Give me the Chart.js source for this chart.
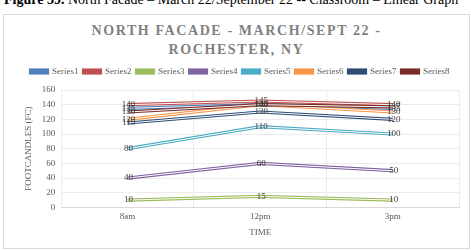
<!DOCTYPE html>
<html>
<head>
<meta charset="utf-8">
<script src="https://cdn.jsdelivr.net/npm/chart.js@4.4.0/dist/chart.umd.min.js"></script>
<style>
  body { margin: 0; width: 471px; height: 250px; overflow: hidden; background: #fff; position: relative; font-family: "Liberation Serif", serif; }
  #caption { position: absolute; left: 4px; top: -8px; font-size: 14px; color: #000; white-space: nowrap; }
  #box { position: absolute; left: 3px; top: 14px; width: 465px; height: 233px; border: 1px solid #d9d9d9; }
  #title { position: absolute; left: 0; top: 6px; width: 465px; text-align: center; font-weight: bold; font-size: 14px; letter-spacing: 1.6px; color: #7f7f7f; line-height: 19px; }
  #wrap { position: absolute; left: 4px; top: 62px; width: 464px; height: 185px; }
</style>
</head>
<body>
<div id="caption"><b>Figure 39.</b> North Facade – March 22/September 22 -- Classroom – Linear Graph</div>
<div id="box"><div id="title">NORTH FACADE - MARCH/SEPT 22 -<br>ROCHESTER, NY</div></div>
<div id="wrap"><canvas id="c"></canvas></div>
<script>
const times = ['8am', '12pm', '3pm'];
const seriesNames = ['Series1', 'Series2', 'Series3', 'Series4', 'Series5', 'Series6', 'Series7', 'Series8'];
const series1 = [135, 140, 135];
const series2 = [140, 145, 140];
const series3 = [10, 15, 10];
const series4 = [40, 60, 50];
const series5 = [80, 110, 100];
const series6 = [120, 140, 130];
const series7 = [115, 130, 120];
const series8 = [130, 140, 137];
const colors = ['#4F81BD', '#C0504D', '#9BBB59', '#8064A2', '#4BACC6', '#F79646', '#2C4D75', '#772C2A'];
const allValues = [series1, series2, series3, series4, series5, series6, series7, series8];
const serif = '"Liberation Serif", "DejaVu Serif", serif';

const datasets = [];
allValues.forEach((vals, i) => {
  // outer coloured stroke
  datasets.push({
    label: seriesNames[i],
    data: vals,
    borderColor: colors[i],
    backgroundColor: colors[i],
    borderWidth: 3.2,
    pointRadius: 0,
    tension: 0,
    order: 100 - 2 * i
  });
  // white core for the double line look
  datasets.push({
    label: '_core' + i,
    data: vals,
    borderColor: '#ffffff',
    borderWidth: 1,
    pointRadius: 0,
    tension: 0,
    order: 99 - 2 * i
  });
});

const valueLabels = {
  id: 'valueLabels',
  afterDatasetsDraw(chart) {
    const ctx = chart.ctx;
    ctx.save();
    ctx.font = '9px ' + serif;
    ctx.fillStyle = '#404040';
    ctx.textAlign = 'center';
    ctx.textBaseline = 'middle';
    chart.data.datasets.forEach((ds, di) => {
      if (ds.label.startsWith('_core')) return;
      const meta = chart.getDatasetMeta(di);
      meta.data.forEach((pt, j) => {
        ctx.fillText(ds.data[j], pt.x + 1, pt.y);
      });
    });
    ctx.restore();
  }
};

// a bit of room under the legend
const legendGap = {
  id: 'legendGap',
  beforeInit(chart) {
    const fit = chart.legend.fit;
    chart.legend.fit = function () {
      fit.call(this);
      this.height += 4;
    };
  }
};

new Chart(document.getElementById('c'), {
  type: 'line',
  data: { labels: times, datasets: datasets },
  plugins: [valueLabels, legendGap],
  options: {
    responsive: true,
    maintainAspectRatio: false,
    animation: false,
    layout: { padding: { left: 17, right: 9, top: 0, bottom: 8 } },
    plugins: {
      tooltip: { enabled: false },
      legend: {
        position: 'top',
        labels: {
          filter: (item) => !item.text.startsWith('_core'),
          sort: (a, b) => a.datasetIndex - b.datasetIndex,
          boxWidth: 17,
          boxHeight: 3,
          padding: 5,
          color: '#595959',
          font: { family: serif, size: 9 }
        }
      }
    },
    scales: {
      x: {
        offset: true,
        grid: { offset: true, color: '#ececec', drawTicks: false },
        border: { color: '#d9d9d9' },
        ticks: { color: '#595959', padding: 4, font: { family: serif, size: 9 } },
        title: { display: true, text: 'TIME', color: '#595959', padding: { top: 1, bottom: 1 }, font: { family: serif, size: 9 } }
      },
      y: {
        min: 0,
        max: 160,
        ticks: { stepSize: 20, color: '#595959', padding: 6, font: { family: serif, size: 9 } },
        grid: { color: '#ececec', drawTicks: false },
        border: { display: false },
        title: { display: true, text: 'FOOTCANDLES (FC)', color: '#595959', padding: 2, font: { family: serif, size: 9 } }
      }
    }
  }
});
</script>
</body>
</html>
